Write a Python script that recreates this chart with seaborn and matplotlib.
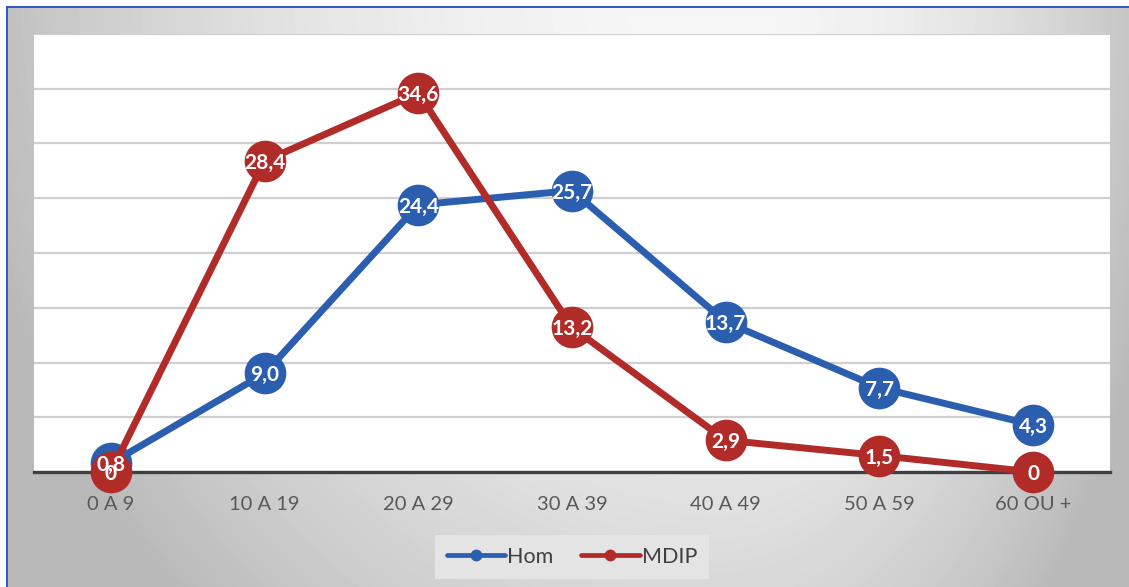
import numpy as np
import pandas as pd
import matplotlib
matplotlib.use("Agg")
import matplotlib.pyplot as plt
from matplotlib.lines import Line2D
import seaborn as sns

# Age groups and the two series (percent)
categories = ["0 A 9", "10 A 19", "20 A 29", "30 A 39", "40 A 49", "50 A 59", "60 OU +"]
hom = [0.8, 9.0, 24.4, 25.7, 13.7, 7.7, 4.3]
mdip = [0, 28.4, 34.6, 13.2, 2.9, 1.5, 0]
series_names = ["Hom", "MDIP"]

BLUE = "#2C5EAF"
RED = "#B12C29"

sns.set_theme(style="white")
plt.rcParams["font.family"] = ["Lato", "DejaVu Sans"]

W, H = 1129, 587
fig = plt.figure(figsize=(W / 100, H / 100), dpi=100)
fig.patch.set_facecolor("white")

# Chart-area background: soft grey gradient, lightest near the top
bg = fig.add_axes([7 / W, 0, 1 - 7 / W, 1 - 7 / H], zorder=-10)
gx = np.arange(7, W)
gy = np.arange(7, H)
X, Y = np.meshgrid(gx, gy)
cx, cy = 720.0, -20.0
rx = np.where(X < cx, 700.0, 420.0)
d2 = ((X - cx) / rx) ** 2 + ((Y - cy) / 800.0) ** 2
val = np.clip(0.965 - 0.20 * d2, 0.73, 1.0)
bg.imshow(val, cmap="gray", vmin=0, vmax=1, aspect="auto",
          extent=[0, 1, 0, 1], interpolation="bilinear")
bg.set_xlim(0, 1)
bg.set_ylim(0, 1)
bg.set_xticks([])
bg.set_yticks([])
for side in ("right", "bottom"):
    bg.spines[side].set_visible(False)
for side in ("top", "left"):
    bg.spines[side].set_color("#2F55C8")
    bg.spines[side].set_linewidth(1.4)

# Plot area
ax = fig.add_axes([34 / W, (H - 472) / H, (1110 - 34) / W, (472 - 34) / H])
ax.set_facecolor("white")

df = pd.DataFrame({
    "age": categories * 2,
    "value": hom + mdip,
    "serie": [series_names[0]] * len(hom) + [series_names[1]] * len(mdip),
})

sns.lineplot(data=df, x="age", y="value", hue="serie", palette=[BLUE, RED],
             marker="o", markersize=30, markeredgewidth=0, linewidth=5.0,
             sort=False, legend=False, ax=ax, zorder=3)
for ln in ax.lines:
    ln.set_clip_on(False)
    ln.set_solid_capstyle("round")

def fmt(v):
    if v == 0:
        return "0"
    return f"{v:.1f}".replace(".", ",")

for vals in (hom, mdip):
    for i, v in enumerate(vals):
        ax.text(i, v, fmt(v), ha="center", va="center_baseline", color="white",
                fontsize=15, fontweight="bold", zorder=6, clip_on=False)

ax.set_xlim(-0.5, len(categories) - 0.5)
ax.set_ylim(0, 40)
ax.set_yticks(np.arange(0, 41, 5))
ax.set_yticklabels([])
ax.yaxis.grid(True, color="#CFCFCF", linewidth=1.6)
ax.set_axisbelow(True)
ax.set_xticks(range(len(categories)))
ax.set_xticklabels(categories, fontsize=14.5, color="#595959")
ax.tick_params(axis="x", length=0, pad=17)
ax.tick_params(axis="y", length=0)
ax.set_xlabel("")
ax.set_ylabel("")
for side in ("top", "right", "left"):
    ax.spines[side].set_visible(False)
ax.spines["bottom"].set_color("#404040")
ax.spines["bottom"].set_linewidth(2.4)
ax.spines["bottom"].set_zorder(2)

handles = [
    Line2D([0], [0], color=BLUE, lw=3.4, marker="o", markersize=7.5, solid_capstyle="round"),
    Line2D([0], [0], color=RED, lw=3.4, marker="o", markersize=7.5, solid_capstyle="round"),
]
leg = fig.legend(handles, series_names, loc="center",
                 bbox_to_anchor=(572 / W, 1 - 557 / H), ncol=2,
                 frameon=True, fancybox=False, facecolor="#E4E4E4",
                 edgecolor="none", framealpha=1, fontsize=15.5,
                 handlelength=2.7, handletextpad=0.1, columnspacing=1.3,
                 borderpad=0.55)
for t in leg.get_texts():
    t.set_color("#404040")

fig.savefig("out.png", dpi=100)
